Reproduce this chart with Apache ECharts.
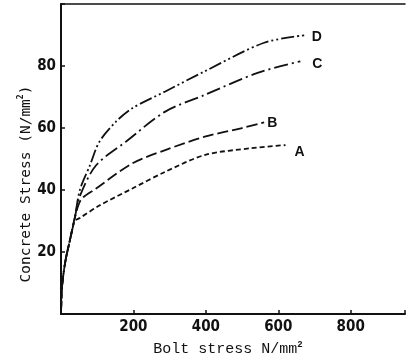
<!DOCTYPE html>
<html>
<head>
<meta charset="utf-8">
<script src="https://cdn.jsdelivr.net/npm/echarts@6/dist/echarts.min.js"></script>
<style>
html,body{margin:0;padding:0;background:#fff;}
#chart{width:408px;height:362px;}
</style>
</head>
<body>
<div id="chart"></div>
<script>
// Data (x: bolt stress N/mm2, y: concrete stress N/mm2)
const curveA = [[0,0],[3,9],[12,17],[25,24],[38,30],[52,31],[106,35],[197,40.5],[288,45.9],[397,51.3],[525,53.5],[620,54.5]];
const curveB = [[0,0],[3,9],[12,17],[25,24],[38,31],[56,37],[97,40.5],[197,48.6],[288,52.9],[397,57.2],[500,60],[561,61.8]];
const curveC = [[0,0],[3,9],[12,17],[25,24],[38,31],[52,38],[97,48],[179,55.6],[288,65.3],[397,70.7],[543,77.8],[661,81.5]];
const curveD = [[0,0],[3,9],[12,17],[25,24],[38,31],[52,40],[80,48],[106,55.6],[152,62.1],[197,66.4],[288,71.8],[397,78.3],[561,87.5],[679,90]];
const curveNames = ['A','B','C','D'];
const xTickLabels = [200,400,600,800];
const yTickLabels = [20,40,60,80];

const chart = echarts.init(document.getElementById('chart'));
const labelFont = {fontFamily:'"Liberation Sans Narrow","DejaVu Sans Condensed",sans-serif', fontWeight:'bold', fontSize:15, color:'#111'};
function mkSeries(name, data, dash, off){
  return {
    name: name, type:'line', data: data, smooth: 0.3, symbol:'none',
    lineStyle:{color:'#111', width:1.8, type: dash},
    endLabel:{show:true, formatter: name, offset: off, fontFamily:'"Liberation Sans Narrow",sans-serif', fontWeight:'bold', fontSize:14, color:'#111', distance:3},
    z: 3
  };
}
chart.setOption({
  animation:false,
  grid:{left:61, right:0, top:4, bottom:47},
  xAxis:[{
    type:'value', min:0, max:950, interval:200,
    name:'Bolt stress N/mm{sup|2}', nameLocation:'middle', nameGap:22,
    nameTextStyle:{fontFamily:'"Liberation Mono",monospace', fontSize:15, color:'#111', padding:[0,10,0,0],
      rich:{sup:{fontFamily:'"Liberation Mono",monospace', fontSize:9, fontWeight:'bold', verticalAlign:'top', padding:[0,0,10,0]}}},
    axisLine:{show:true, lineStyle:{color:'#111', width:2}},
    axisTick:{show:true, inside:true, length:4, lineStyle:{color:'#111', width:1.5}},
    axisLabel:Object.assign({margin:6, formatter: v => xTickLabels.includes(v) ? String(v) : ''}, labelFont),
    splitLine:{show:false}
  },{
    type:'value', min:0, max:950, position:'top',
    axisLine:{show:true, onZero:false, lineStyle:{color:'#111', width:1.5}},
    axisTick:{show:false}, axisLabel:{show:false}, splitLine:{show:false}
  }],
  yAxis:{
    type:'value', min:0, max:100, interval:20,
    name:'Concrete Stress (N/mm{sup|2})', nameLocation:'middle', nameGap:26, nameMoveOverlap:false,
    nameTextStyle:{fontFamily:'"DejaVu Sans Mono",monospace', fontSize:14.5, color:'#111', padding:[0,50,0,0],
      rich:{sup:{fontFamily:'"DejaVu Sans Mono",monospace', fontSize:8, fontWeight:'bold', padding:[0,0,10,0]}}},
    axisLine:{show:true, lineStyle:{color:'#111', width:2}},
    axisTick:{show:true, inside:true, length:4, lineStyle:{color:'#111', width:1.5}},
    axisLabel:Object.assign({margin:5, formatter: v => yTickLabels.includes(v) ? String(v) : ''}, labelFont),
    splitLine:{show:false}
  },
  series:[
    mkSeries(curveNames[0], curveA, [5,3], [6,7]),
    mkSeries(curveNames[1], curveB, [11,4], [0,1]),
    mkSeries(curveNames[2], curveC, [14,4,2,4], [9,3]),
    mkSeries(curveNames[3], curveD, [13,3,2,3,2,3], [2,2])
  ]
});
</script>
</body>
</html>
